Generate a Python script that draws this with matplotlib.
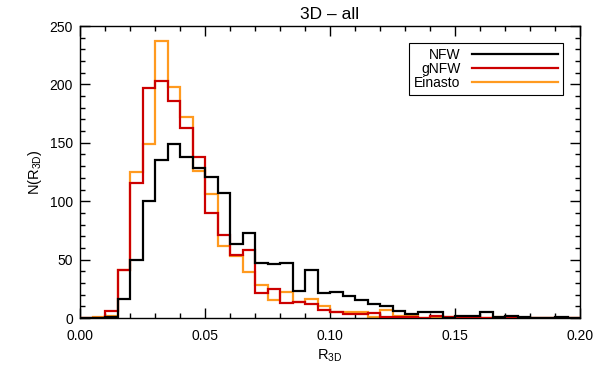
import numpy as np
import matplotlib
matplotlib.use("Agg")
import matplotlib.pyplot as plt
from matplotlib.ticker import MultipleLocator, FormatStrFormatter

plt.rcParams['font.family'] = ['Liberation Sans', 'DejaVu Sans']
plt.rcParams['mathtext.fontset'] = 'custom'
plt.rcParams['mathtext.rm'] = 'Liberation Sans'
plt.rcParams['mathtext.it'] = 'Liberation Sans'

# bin edges: 40 bins of width 0.005 between 0 and 0.2
edges = np.linspace(0.0, 0.2, 41)

nfw = [0, 0, 1, 16, 50, 100, 135, 149, 138, 128,
       121, 107, 63, 73, 47, 46, 47, 23, 41, 21,
       22, 19, 15, 12, 10, 6, 3, 5, 5, 0,
       2, 2, 5, 1, 2, 1, 0, 0, 1, 0]
gnfw = [0, 0, 6, 41, 116, 197, 203, 186, 163, 138,
        90, 71, 54, 58, 21, 25, 13, 14, 12, 7,
        5, 3, 3, 4, 1, 1, 1, 0, 2, 1,
        1, 1, 0, 0, 0, 0, 0, 0, 0, 0]
einasto = [0, 1, 2, 41, 125, 149, 237, 198, 172, 126,
           106, 62, 53, 39, 28, 15, 22, 14, 16, 10,
           5, 5, 5, 1, 7, 2, 2, 0, 1, 1,
           0, 0, 0, 1, 1, 0, 0, 0, 0, 0]

fig = plt.figure(figsize=(6, 3.67), dpi=100)
ax = fig.add_axes([80/600, 49/367, 500/600, 292/367])

lw = 1.6
h_e = ax.stairs(einasto, edges, color='#ff9a1f', lw=lw, label='Einasto', zorder=2)
h_g = ax.stairs(gnfw, edges, color='#cc0000', lw=lw, label='gNFW', zorder=3)
h_n = ax.stairs(nfw, edges, color='black', lw=lw, label='NFW', zorder=4)

ax.set_xlim(0, 0.2)
ax.set_ylim(0, 250)
ax.xaxis.set_major_locator(MultipleLocator(0.05))
ax.xaxis.set_minor_locator(MultipleLocator(0.01))
ax.yaxis.set_major_locator(MultipleLocator(50))
ax.yaxis.set_minor_locator(MultipleLocator(10))
ax.xaxis.set_major_formatter(FormatStrFormatter('%.2f'))
ax.tick_params(which='both', direction='in', top=True, right=True,
               labelsize=10, width=1.0)
ax.tick_params(axis='x', pad=8)
ax.tick_params(axis='y', pad=5)
ax.tick_params(which='major', length=7)
ax.tick_params(which='minor', length=3.5)
for s in ax.spines.values():
    s.set_linewidth(1.0)

ax.set_title('3D \u2013 all', fontsize=12.5, pad=5)
ax.set_xlabel('R$_{\\rm 3D}$', fontsize=10.5, labelpad=3)
ax.set_ylabel('N(R$_{\\rm 3D}$)', fontsize=10.5, labelpad=4)

leg = ax.legend(handles=[h_n, h_g, h_e], labels=['NFW', 'gNFW', 'Einasto'],
                loc='upper right', bbox_to_anchor=(0.965, 0.943),
                markerfirst=False, fontsize=10, handlelength=6.2,
                handletextpad=0.8, labelspacing=0.03, borderpad=0.35,
                borderaxespad=0, fancybox=False, framealpha=1,
                edgecolor='black')
leg.get_frame().set_linewidth(0.8)
for line in leg.get_lines():
    line.set_linewidth(1.6)

fig.savefig('out.png', dpi=100)
